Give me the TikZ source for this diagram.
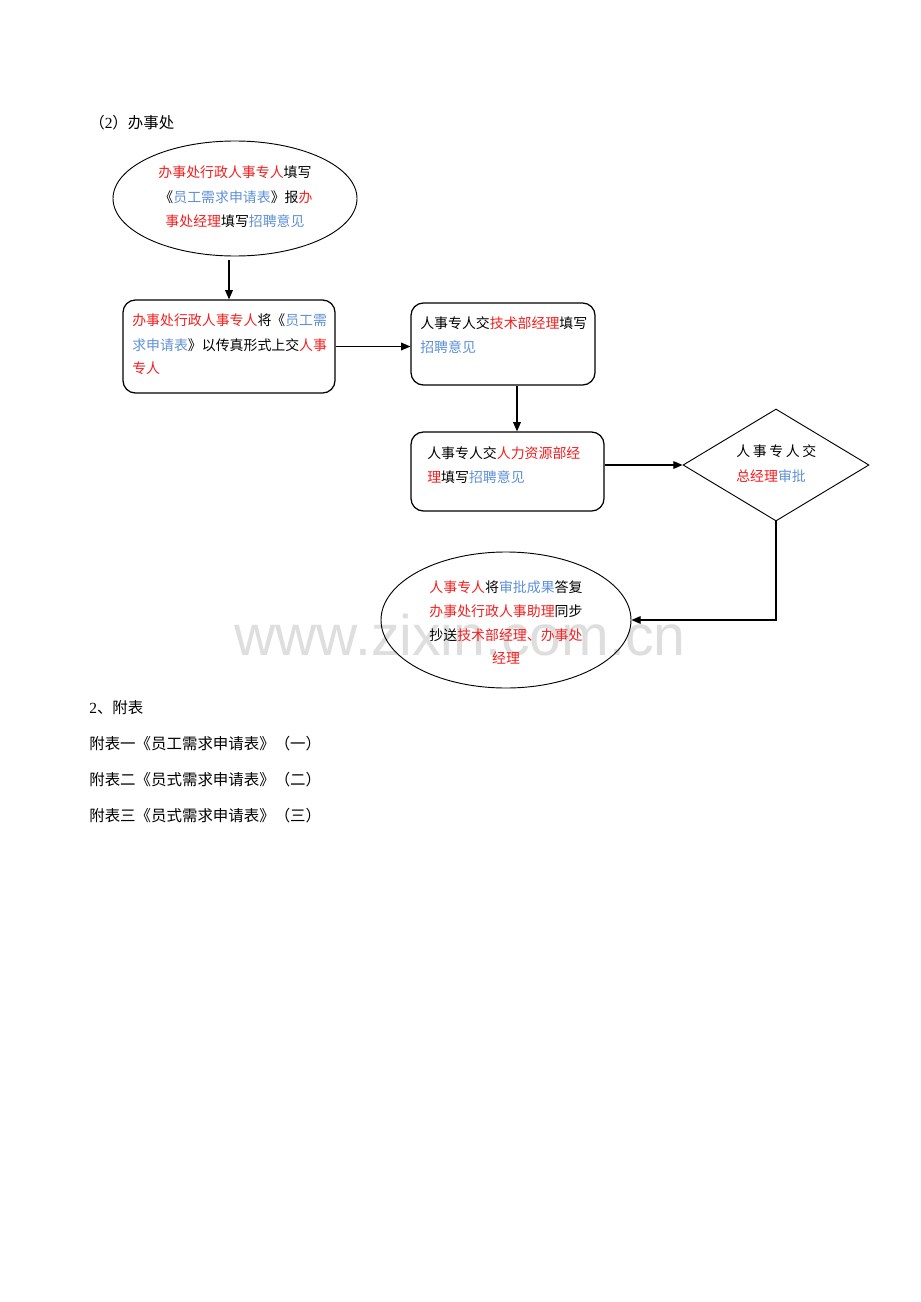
\documentclass[tikz,border=0pt]{standalone}
\usepackage{fontspec}
\setmainfont{Liberation Serif}
\newfontfamily\cjk{Noto Sans CJK SC}
\newfontfamily\wmfont{Liberation Sans}
\usetikzlibrary{shapes.geometric,arrows.meta}
\newdimen\pxu \pxu=0.647pt
\definecolor{tred}{RGB}{245,30,30}
\definecolor{tblue}{RGB}{95,145,215}
\definecolor{wmgray}{RGB}{222,222,222}
\newcommand\rd[1]{\textcolor{tred}{#1}}
\newcommand\bl[1]{\textcolor{tblue}{#1}}
\begin{document}
\begin{tikzpicture}[x=0.647pt,y=-0.647pt,
  txt/.style={inner sep=0pt,font=\cjk\fontsize{9}{11}\selectfont,text height=7.5pt,text depth=1.5pt,anchor=west},
  ctxt/.style={txt,anchor=center},
  body/.style={inner sep=0pt,font=\cjk\fontsize{10}{12}\selectfont,text height=8.3pt,text depth=1.7pt,anchor=west},
  shp/.style={draw,line width=0.8pt,inner sep=0pt},
  box/.style={shp,rectangle,rounded corners=8pt},
  ell/.style={draw,line width=0.6pt,inner sep=0pt,ellipse},
  arr/.style={-{Triangle[length=6pt,width=5pt]},line width=0.8pt}]
\fill[white] (0,0) rectangle (920,1302);
\useasboundingbox (0,0) rectangle (920,1302);
% watermark
\node[inner sep=0pt,anchor=base,text=wmgray,font=\wmfont\fontsize{37}{40}\selectfont] (wm) at (460,655) {www.zixin.com.cn};
% header
\node[body] (hd) at (89,123) {（{\rmfamily 2}）办事处};
% shapes
\node[ell,minimum width=244\pxu,minimum height=115\pxu] (e1) at (235,198.5) {};
\node[box,minimum width=212\pxu,minimum height=93\pxu] (b1) at (229,346.5) {};
\node[box,minimum width=184\pxu,minimum height=82\pxu] (b2) at (503,344) {};
\node[box,minimum width=193\pxu,minimum height=79\pxu] (b3) at (507.5,471.5) {};
\node[shp,diamond,line width=0.6pt,minimum width=186\pxu,minimum height=112\pxu] (d) at (776,465) {};
\node[ell,minimum width=250\pxu,minimum height=136\pxu] (e2) at (506,620) {};
% texts e1
\node[ctxt] (e1a) at (235,173) {\rd{办事处行政人事专人}填写};
\node[ctxt] (e1b) at (236,198) {《\bl{员工需求申请表}》报\rd{办}};
\node[ctxt] (e1c) at (235,222) {\rd{事处经理}填写\bl{招聘意见}};
% texts b1
\node[txt] (b1a) at (132,321) {\rd{办事处行政人事专人}将《\bl{员工需}};
\node[txt] (b1b) at (132,346) {\bl{求申请表}》以传真形式上交\rd{人事}};
\node[txt] (b1c) at (132,369) {\rd{专人}};
% texts b2
\node[txt] (b2a) at (420,324) {人事专人交\rd{技术部经理}填写};
\node[txt] (b2b) at (420,348) {\bl{招聘意见}};
% texts b3
\node[txt] (b3a) at (427,454) {人事专人交\rd{人力资源部经}};
\node[txt] (b3b) at (427,478) {\rd{理}填写\bl{招聘意见}};
% texts diamond
\node[txt] (da) at (736,452) {人\hspace{1.7pt}事\hspace{1.7pt}专\hspace{1.7pt}人\hspace{1.7pt}交};
\node[txt] (db) at (736,477) {\rd{总经理}\bl{审批}};
% texts e2
\node[ctxt] (e2a) at (506,588) {\rd{人事专人}将\bl{审批成果}答复};
\node[ctxt] (e2b) at (506,612) {\rd{办事处行政人事助理}同步};
\node[ctxt] (e2c) at (506,636) {抄送\rd{技术部经理、办事处}};
\node[ctxt] (e2d) at (506,659) {\rd{经理}};
% connectors
\draw[arr,shorten <=2.5pt] (b1.north |- e1.south) -- (b1.north);
\draw[arr] (b1.east) -- (b1.east -| b2.west);
\draw[arr] ([xshift=14\pxu]b2.south) -- ([xshift=14\pxu]b2.south |- b3.north);
\draw[arr] (b3.east |- d.west) -- (d.west);
\draw[arr] (d.south) -- (d.south |- e2.east) -- (e2.east);
% bottom texts
\node[body] (t1) at (89,708) {{\rmfamily 2}、附表};
\node[body] (t2) at (89,744) {附表一《员工需求申请表》（一）};
\node[body] (t3) at (89,780) {附表二《员式需求申请表》（二）};
\node[body] (t4) at (89,816) {附表三《员式需求申请表》（三）};
\end{tikzpicture}
\end{document}
